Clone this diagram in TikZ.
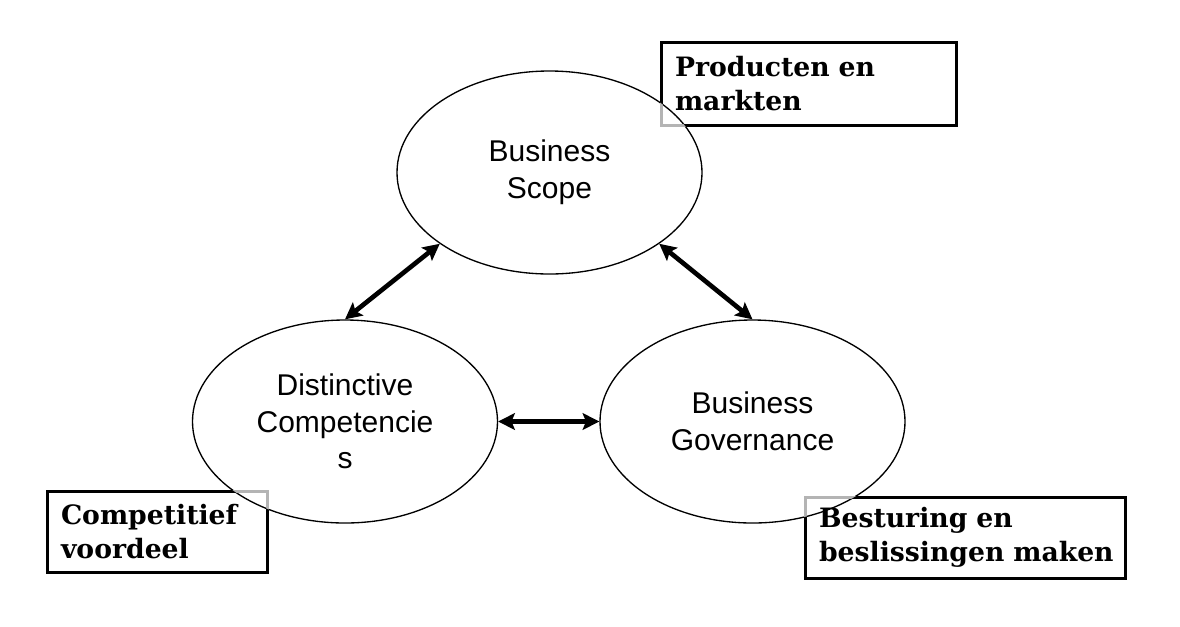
\documentclass[tikz,border=0pt]{standalone}
\usepackage{fontspec}
\usetikzlibrary{arrows.meta,shapes.geometric}
\newfontfamily\ellfont{Liberation Sans}
\newfontfamily\boxfont{DejaVu Serif}
\definecolor{edgegrey}{RGB}{180,180,180}

\begin{document}
\begin{tikzpicture}[x=0.75pt,y=-0.75pt,
    bubble/.style={ellipse,draw,line width=1pt,minimum width=228.75pt,minimum height=152.25pt,
      inner sep=0pt,align=center,font=\ellfont\fontsize{22.5}{27.5}\selectfont},
    labelbox/.style={draw,line width=2.25pt,outer sep=0pt,inner xsep=10.5pt,inner ysep=0pt,
      align=left,font=\boxfont\bfseries\fontsize{20}{25.5}\selectfont},
    link/.style={{Stealth[length=12.5pt,width=12.5pt,inset=2.5pt]}-{Stealth[length=12.5pt,width=12.5pt,inset=2.5pt]},
      line width=3.5pt}]
  \useasboundingbox (0,0) rectangle (1180,626);
  % the three ellipses
  \node[bubble] (scope) at (549.5,172.5) {Business\\Scope};
  \node[bubble] (comp) at (345,421.5) {Distinctive\\Competencie\\s};
  \node[bubble] (gov) at (752.5,421.5) {Business\\Governance};
  % double arrows between them
  \draw[link] (comp.north) -- (scope.213);
  \draw[link] (scope.327) -- (gov.north);
  \draw[link] (comp.east) -- (gov.west);
  % the three boxes
  \node[labelbox,minimum height=62.25pt,text width=200.25pt] (prod) at (808.5,83.5) {Producten en\\markten};
  \node[labelbox,minimum height=60.75pt,text width=144pt] (adv) at (157,531.5) {Competitief\\voordeel};
  \node[labelbox,minimum height=60.75pt,text width=219pt] (steer) at (965,537.5) {Besturing en\\beslissingen~maken};
  % box edge turns grey inside an ellipse
  \begin{scope}
    \clip (scope.center) ellipse [x radius=114.375pt,y radius=76.125pt];
    \draw[edgegrey,line width=2.25pt] (prod.north west) rectangle (prod.south east);
  \end{scope}
  \begin{scope}
    \clip (comp.center) ellipse [x radius=114.375pt,y radius=76.125pt];
    \draw[edgegrey,line width=2.25pt] (adv.north west) rectangle (adv.south east);
  \end{scope}
  \begin{scope}
    \clip (gov.center) ellipse [x radius=114.375pt,y radius=76.125pt];
    \draw[edgegrey,line width=2.25pt] (steer.north west) rectangle (steer.south east);
  \end{scope}
\end{tikzpicture}
\end{document}
